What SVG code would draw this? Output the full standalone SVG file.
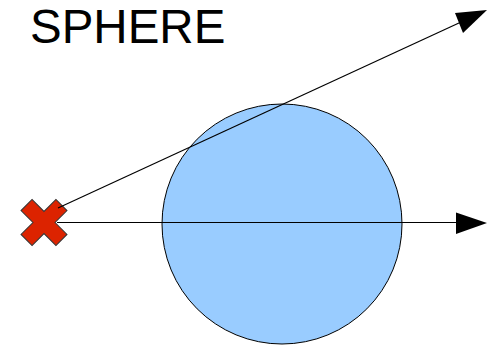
<svg xmlns="http://www.w3.org/2000/svg" width="488" height="347" viewBox="0 0 488 347">
<style>
.line{stroke:#000;stroke-width:1.2;fill:none}
.head{fill:#000}
.label{font-family:"Liberation Sans",Arial,sans-serif;font-size:47.5px;fill:#000}
</style>
<rect width="488" height="347" fill="#fff"/>
<g id="title"><text class="label" x="30" y="43">SPHERE</text></g>
<g id="sphere"><circle cx="282" cy="224" r="120" fill="#99ccff" stroke="#000" stroke-width="1"/></g>
<g id="source"><polygon points="7.8,-7.8 24.7,-7.8 24.7,7.8 7.8,7.8 7.8,24.7 -7.8,24.7 -7.8,7.8 -24.7,7.8 -24.7,-7.8 -7.8,-7.8 -7.8,-24.7 7.8,-24.7" transform="translate(44,222.5) rotate(45)" fill="#dc2300" stroke="#333" stroke-width="1"/></g>
<g id="connectors">
<line class="line" x1="57" y1="222.5" x2="458" y2="222.5"/>
<polygon class="head" points="487,223 456,212.5 456,234"/>
<line class="line" x1="58" y1="208" x2="460" y2="22.5"/>
<polygon class="head" points="487,10 455,13 463,33"/>
</g>
</svg>
